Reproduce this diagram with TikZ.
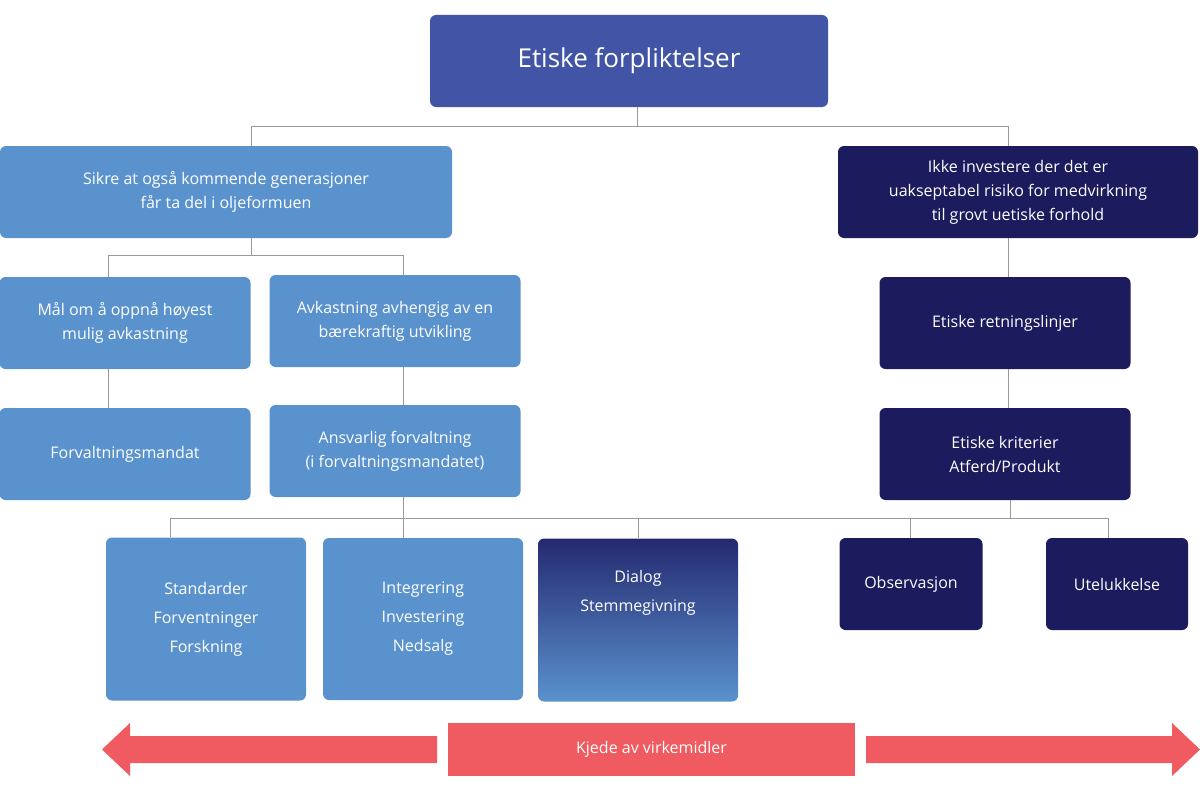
\documentclass[tikz,border=0pt]{standalone}
\usepackage{fontspec}
\setmainfont{Open Sans}
\usetikzlibrary{calc}
\definecolor{topblue}{HTML}{4254A6}
\definecolor{lightblue}{HTML}{5A92CE}
\definecolor{navy}{HTML}{1B1B5E}
\definecolor{redbar}{HTML}{EF5B60}
\begin{document}
\begin{tikzpicture}[x=1pt,y=-1pt,
	box/.style={rounded corners=6pt,align=center,text=white,inner sep=0pt,font=\fontsize{16}{24}\selectfont},
	lb/.style={box,fill=lightblue},
	nb/.style={box,fill=navy},
	link/.style={draw=gray!80,line width=0.8pt}]
	\useasboundingbox (0,0) rectangle (1200,792);
	% boxes
	\node (top) [box,fill=topblue,minimum width=398,minimum height=92,font=\fontsize{26}{30}\selectfont] at (629,61) {Etiske forpliktelser};
	\node (gen) [lb,minimum width=452,minimum height=92] at (226,192) {Sikre at også kommende generasjoner\\får ta del i oljeformuen};
	\node (risk) [nb,minimum width=360,minimum height=92] at (1018,192) {Ikke investere der det er\\uakseptabel risiko for medvirkning\\til grovt uetiske forhold};
	\node (maal) [lb,minimum width=251,minimum height=92] at (125,323) {Mål om å oppnå høyest\\mulig avkastning};
	\node (avk) [lb,minimum width=251,minimum height=92] at (395,321) {Avkastning avhengig av en\\bærekraftig utvikling};
	\node (retn) [nb,minimum width=251,minimum height=92] at (1005,323) {Etiske retningslinjer};
	\node (mandat) [lb,minimum width=251,minimum height=92] at (125,454) {Forvaltningsmandat};
	\node (ansv) [lb,minimum width=251,minimum height=92] at (395,451) {Ansvarlig forvaltning\\(i forvaltningsmandatet)};
	\node (krit) [nb,minimum width=251,minimum height=92] at (1005,454) {Etiske kriterier\\Atferd/Produkt};
	\node (std) [lb,minimum width=200,minimum height=163,font=\fontsize{16}{29}\selectfont] at (206,619) {Standarder\\Forventninger\\Forskning};
	\node (integr) [lb,minimum width=200,minimum height=162,font=\fontsize{16}{29}\selectfont] at (423,619) {Integrering\\Investering\\Nedsalg};
	\node (dialog) [box,top color=navy!75!topblue,bottom color=lightblue,minimum width=200,minimum height=163,font=\fontsize{16}{29}\selectfont] at (638,620) {Dialog\\Stemmegivning\\[29pt]};
	\node (obs) [nb,minimum width=143,minimum height=92] at (911,584) {Observasjon};
	\node (ute) [nb,minimum width=142,minimum height=92] at (1117,584) {Utelukkelse};
	% connectors
	\coordinate (j1) at (637,126);
	\draw[link] (top.south -| j1) -- (j1) -| (gen.north -| 251,0);
	\draw[link] (j1) -| (risk.north -| 1008,0);
	\coordinate (j2) at (251,255);
	\draw[link] (gen.south -| j2) -- (j2) -| (maal.north -| 108,0);
	\draw[link] (j2) -| (avk.north -| 403,0);
	\draw[link] (maal.south -| 108,0) -- (mandat.north -| 108,0);
	\draw[link] (avk.south -| 403,0) -- (ansv.north -| 403,0);
	\draw[link] (risk.south -| 1008,0) -- (retn.north -| 1008,0);
	\draw[link] (retn.south -| 1008,0) -- (krit.north -| 1008,0);
	\coordinate (j3) at (403,518);
	\draw[link] (ansv.south -| j3) -- (j3) -| (std.north -| 170,0);
	\draw[link] (j3) -| (integr.north -| 403,0);
	\draw[link] (j3) -| (dialog.north);
	\draw[link] (j3) -| (obs.north -| 910,0);
	\draw[link] (j3) -| (ute.north -| 1108,0);
	\draw[link] (krit.south -| 1010,0) -- (1010,518);
	% chain of instruments
	\node (kjede) [fill=redbar,text=white,minimum width=407,minimum height=53,inner sep=0pt,font=\fontsize{16}{20}\selectfont] at (651.5,749.5) {Kjede av virkemidler};
	\fill[redbar] (437,736) -- (130,736) -- (130,723) -- (102,749.5) -- (130,776) -- (130,763) -- (437,763) -- cycle;
	\fill[redbar] (866,736) -- (1172,736) -- (1172,723) -- (1200,749.5) -- (1172,776) -- (1172,763) -- (866,763) -- cycle;
\end{tikzpicture}
\end{document}
